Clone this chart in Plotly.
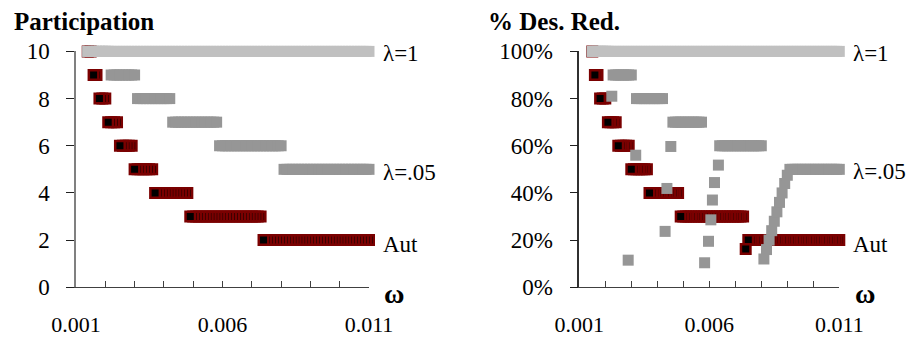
import plotly.graph_objects as go

STEP = 0.0001

# ---------------- data (runs: start omega, end omega, value) ----------------
# Participation panel
part_lam1_runs = [(0.0014, 0.0110, 10)]
part_lam05_runs = [(0.0014, 0.0021, 10), (0.0022, 0.0030, 9), (0.0031, 0.0042, 8),
                   (0.0043, 0.0058, 7), (0.0059, 0.0080, 6), (0.0081, 0.0110, 5)]
part_aut_runs = [(0.0014, 0.0015, 10), (0.0016, 0.0017, 9), (0.0018, 0.0020, 8),
                 (0.0021, 0.0024, 7), (0.0025, 0.0029, 6), (0.0030, 0.0036, 5),
                 (0.0037, 0.0048, 4), (0.0049, 0.0073, 3), (0.0074, 0.0110, 2)]

# % Des. Red. panel
red_lam1_runs = [(0.0015, 0.0110, 1.00)]
red_lam05_runs = [(0.0015, 0.0021, 1.00), (0.0023, 0.0030, 0.90), (0.0032, 0.0042, 0.80),
                  (0.0046, 0.0057, 0.70), (0.0064, 0.0080, 0.60), (0.0091, 0.0110, 0.50)]
red_lam05_pts_x = [0.00225, 0.00288, 0.00317, 0.0043, 0.00437, 0.00452,
                   0.00582, 0.00597, 0.00606, 0.00612, 0.0062, 0.00635,
                   0.0081, 0.0082, 0.0083, 0.0084, 0.0085, 0.0086, 0.0087,
                   0.0088, 0.0089, 0.0090]
red_lam05_pts_y = [0.81, 0.115, 0.56, 0.237, 0.419, 0.597,
                   0.104, 0.195, 0.286, 0.370, 0.444, 0.518,
                   0.12, 0.16, 0.20, 0.24, 0.28, 0.32, 0.36,
                   0.40, 0.44, 0.475]
red_aut_runs = [(0.0015, 0.0015, 1.00), (0.0016, 0.0017, 0.90), (0.0018, 0.0020, 0.80),
                (0.0021, 0.0024, 0.70), (0.0025, 0.0029, 0.60), (0.0030, 0.0036, 0.50),
                (0.0037, 0.0048, 0.40), (0.0049, 0.0073, 0.30), (0.0074, 0.0074, 0.162),
                (0.0075, 0.0110, 0.20)]

x_tickvals = [0.001, 0.002, 0.003, 0.004, 0.005, 0.006, 0.007, 0.008, 0.009, 0.010, 0.011]
x_ticktext = ["0.001", "", "", "", "", "0.006", "", "", "", "", "0.011"]
x_major = [0.001, 0.006, 0.011]

series_names = ["\u03bb=1", "\u03bb=.05", "Aut"]


def expand(runs):
    xs, ys = [], []
    for x0, x1, v in runs:
        n = int(round((x1 - x0) / STEP))
        for i in range(n + 1):
            xs.append(round(x0 + i * STEP, 5))
            ys.append(v)
    return xs, ys


C_AUT_LINE = "#7a0000"
C_AUT_FILL = "#000000"
C_L05 = "#969696"
C_L1 = "#c0c0c0"
FONT = "Liberation Serif"

fig = go.Figure()


def add_panel(xa, ya, aut_runs, l05_runs, l1_runs, l05_px=None, l05_py=None):
    ax, ay = expand(aut_runs)
    pts = sorted(zip(ax, ay), key=lambda p: -p[0])
    fig.add_trace(go.Scatter(
        x=[p[0] for p in pts], y=[p[1] for p in pts], mode="markers",
        marker=dict(symbol="square", size=9.5, color=C_AUT_FILL,
                    line=dict(color=C_AUT_LINE, width=2.5)),
        xaxis=xa, yaxis=ya, cliponaxis=False, showlegend=False, name="Aut"))
    gx, gy = expand(l05_runs)
    if l05_px:
        gx += l05_px
        gy += l05_py
    fig.add_trace(go.Scatter(
        x=gx, y=gy, mode="markers",
        marker=dict(symbol="square", size=11, color=C_L05, line=dict(width=0)),
        xaxis=xa, yaxis=ya, cliponaxis=False, showlegend=False, name="\u03bb=.05"))
    lx, ly = expand(l1_runs)
    fig.add_trace(go.Scatter(
        x=lx, y=ly, mode="markers",
        marker=dict(symbol="square", size=11, color=C_L1, line=dict(width=0)),
        xaxis=xa, yaxis=ya, cliponaxis=False, showlegend=False, name="\u03bb=1"))


add_panel("x", "y", part_aut_runs, part_lam05_runs, part_lam1_runs)
add_panel("x2", "y2", red_aut_runs, red_lam05_runs, red_lam1_runs,
          red_lam05_pts_x, red_lam05_pts_y)

W, H = 908, 338
ydom = [1 - 287.3 / H, 1 - 51.4 / H]
dom1 = [76 / W, 369 / W]
dom2 = [579.3 / W, 839.3 / W]

tickfont = dict(family=FONT, size=23, color="black")
xtickfont = dict(family=FONT, size=22, color="black")


def xaxis(domain, anchor):
    return dict(domain=domain, anchor=anchor, range=[0.001, 0.011], showline=True,
                linecolor="#404040", linewidth=1, ticks="inside", ticklen=6,
                tickcolor="#404040", tickvals=x_tickvals, ticktext=x_ticktext,
                showgrid=False, zeroline=False, tickfont=xtickfont,
                ticklabelstandoff=17, automargin=False)


def xover(over, anchor, domain):
    return dict(overlaying=over, anchor=anchor, domain=domain, range=[0.001, 0.011],
                showline=False, ticks="outside", ticklen=7, tickcolor="#404040",
                tickvals=x_major, showticklabels=False, showgrid=False, zeroline=False,
                automargin=False)


fig.update_layout(
    width=W, height=H, margin=dict(l=0, r=0, t=0, b=0, autoexpand=False),
    paper_bgcolor="white", plot_bgcolor="white",
    xaxis=xaxis(dom1, "y"),
    xaxis2=xaxis(dom2, "y2"),
    xaxis3=xover("x", "y", dom1),
    xaxis4=xover("x2", "y2", dom2),
    yaxis=dict(domain=ydom, anchor="x", range=[0, 10], showline=True,
               linecolor="#808080", linewidth=1.5, ticks="outside", ticklen=8,
               tickcolor="#202020", tick0=0, dtick=2, showgrid=False, zeroline=False,
               tickfont=tickfont, ticklabelstandoff=12, automargin=False),
    yaxis2=dict(domain=ydom, anchor="x2", range=[0, 1], showline=True,
                linecolor="#303030", linewidth=1.5, ticks="outside", ticklen=8,
                tickcolor="#202020", tick0=0, dtick=0.2, tickformat=".0%",
                showgrid=False, zeroline=False, tickfont=tickfont,
                ticklabelstandoff=12, automargin=False),
)

ann = []
# titles
ann.append(dict(text="<b>Participation</b>", xref="paper", yref="paper",
                x=12 / W, y=1 - 21.5 / H, xanchor="left", yanchor="middle",
                showarrow=False, font=dict(family=FONT, size=25, color="black")))
ann.append(dict(text="<b>% Des. Red.</b>", xref="paper", yref="paper",
                x=486 / W, y=1 - 21.5 / H, xanchor="left", yanchor="middle",
                showarrow=False, font=dict(family=FONT, size=25, color="black")))
# series labels (pixel positions of label centres)
lab_left_px = [53.3, 172.0, 244.5]
lab_right_px = [53.3, 171.7, 244.0]
for name, yl, yr in zip(series_names, lab_left_px, lab_right_px):
    ann.append(dict(text=name, xref="paper", yref="paper", x=381 / W, y=1 - yl / H,
                    xanchor="left", yanchor="middle", showarrow=False, font=tickfont))
    ann.append(dict(text=name, xref="paper", yref="paper", x=851 / W, y=1 - yr / H,
                    xanchor="left", yanchor="middle", showarrow=False, font=tickfont))
# omega labels
for xp in (394 / W, 864.7 / W):
    ann.append(dict(text="<b>\u03c9</b>", xref="paper", yref="paper", x=xp,
                    y=1 - 293 / H, xanchor="center", yanchor="middle", showarrow=False,
                    font=dict(family=FONT, size=28, color="black")))
fig.update_layout(annotations=ann)

fig.write_html("out.html", config={"displayModeBar": False},
               post_script="document.body.style.margin='0';"
                           "document.body.style.padding='0';"
                           "document.body.style.overflow='hidden';")
